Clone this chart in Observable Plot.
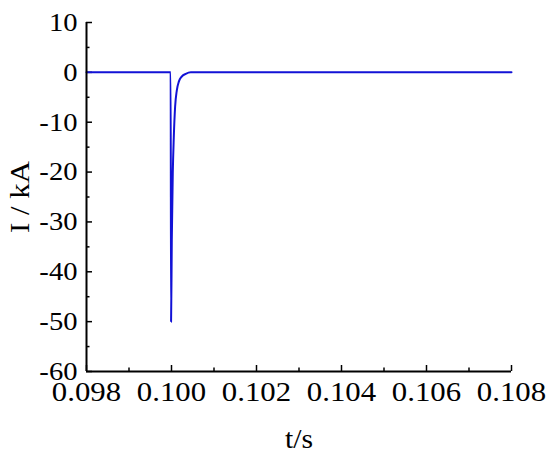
<!DOCTYPE html>
<html>
<head>
<meta charset="utf-8">
<script src="https://cdn.jsdelivr.net/npm/d3@7"></script>
<script src="https://cdn.jsdelivr.net/npm/@observablehq/plot@0.6"></script>
<style>
  html, body { margin: 0; padding: 0; background: #fff; }
  #chart svg text { font-family: "Liberation Serif", "Times New Roman", serif; fill: #000; }
</style>
</head>
<body>
<div id="chart"></div>
<script>
// Data (time in s, current in kA)
const timeS = [0.098, 0.09998, 0.09999, 0.100007, 0.10003, 0.100054, 0.100085, 0.100125, 0.100175, 0.100235, 0.100336, 0.100454, 0.108];
const currentKA = [0, 0, -50, -33.6, -20.3, -13, -6.9, -3.6, -1.8, -0.9, -0.3, 0, 0];

const xMajorTicks = [0.098, 0.100, 0.102, 0.104, 0.106, 0.108];
const xMinorTicks = [0.099, 0.101, 0.103, 0.105, 0.107];
const yMajorTicks = [-60, -50, -40, -30, -20, -10, 0, 10];
const yMinorTicks = [-55, -45, -35, -25, -15, -5, 5];

const data = timeS.map((t, i) => ({t, i: currentKA[i]}));

const W = 550, H = 452;
const mL = 86, mR = 39, mT = 22, mB = 81;
const innerW = W - mL - mR, innerH = H - mT - mB;

const chart = Plot.plot({
  width: W,
  height: H,
  marginLeft: mL,
  marginRight: mR,
  marginTop: mT,
  marginBottom: mB,
  style: {fontFamily: "'Liberation Serif', 'Times New Roman', serif", fontSize: "26px", color: "#000", background: "#fff"},
  x: {domain: [0.098, 0.108]},
  y: {domain: [-60, 10]},
  marks: [
    Plot.axisX(xMajorTicks, {tickSize: 0, tickPadding: 10, fontSize: 28, tickFormat: d3.format(".3f"), label: null, fill: "#000"}),
    Plot.axisX({ticks: [], tickSize: 0, fontSize: 27, label: "t/s", labelAnchor: "center", labelArrow: "none", labelOffset: 76, fill: "#000"}),
    Plot.axisY(yMajorTicks, {tickSize: 0, tickPadding: 9, fontSize: 26, tickFormat: d => String(d).replace("\u2212", "-"), label: null, fill: "#000"}),
    Plot.axisY({ticks: [], tickSize: 0, fontSize: 28, label: "I / kA", labelAnchor: "center", labelArrow: "none", labelOffset: 77, fill: "#000"}),
    Plot.tickX(xMajorTicks, {x: d => d, insetTop: innerH - 6, stroke: "#000", strokeWidth: 1.5}),
    Plot.tickX(xMinorTicks, {x: d => d, insetTop: innerH - 3.5, stroke: "#000", strokeWidth: 1.5}),
    Plot.tickY(yMajorTicks, {y: d => d, insetRight: innerW - 6, stroke: "#000", strokeWidth: 1.5}),
    Plot.tickY(yMinorTicks, {y: d => d, insetRight: innerW - 3.5, stroke: "#000", strokeWidth: 1.5}),
    Plot.line(data, {x: "t", y: "i", stroke: "#1212d6", strokeWidth: 2, curve: "monotone-x"}),
    Plot.ruleX([0.098], {stroke: "#000", strokeWidth: 2}),
    Plot.ruleY([-60], {stroke: "#000", strokeWidth: 2})
  ]
});
// the reference type is slightly wide: stretch texts along their reading direction around their anchors
chart.querySelectorAll("g[aria-label$='tick label'] text, g[aria-label$='axis label'] text").forEach(t => {
  const tr = t.getAttribute("transform") || "";
  t.setAttribute("transform", tr + " scale(1.1,1)");
});
document.getElementById("chart").appendChild(chart);
</script>
</body>
</html>
